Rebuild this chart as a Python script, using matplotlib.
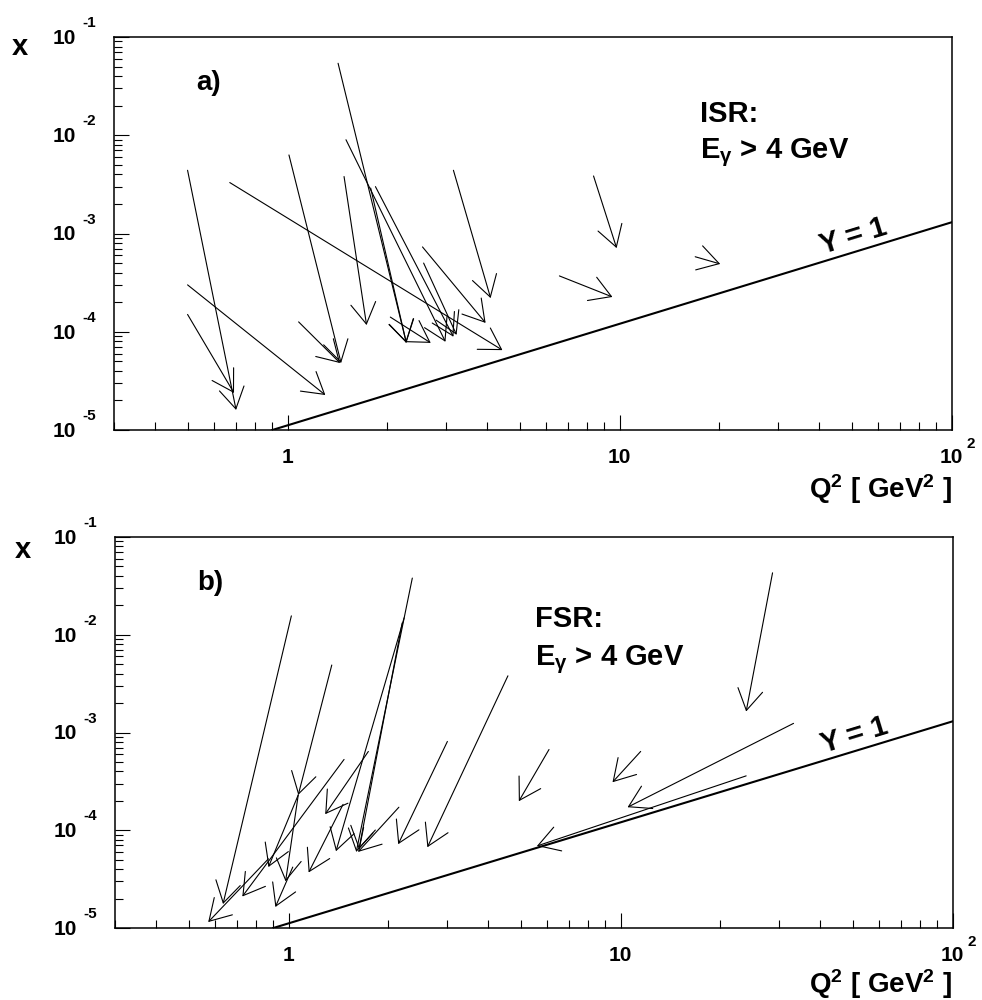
import numpy as np
import matplotlib
matplotlib.use("Agg")
import matplotlib.pyplot as plt
from matplotlib.patches import FancyArrowPatch

plt.rcParams['font.family'] = ['Liberation Sans', 'DejaVu Sans']
plt.rcParams['font.weight'] = 'bold'
plt.rcParams['mathtext.fontset'] = 'custom'
plt.rcParams['mathtext.rm'] = 'Liberation Sans:bold'
plt.rcParams['mathtext.it'] = 'Liberation Sans:bold'
plt.rcParams['mathtext.bf'] = 'Liberation Sans:bold'

# ISR events: (Q2, x) before -> after photon correction
isr_q2_tail = [0.50, 0.50, 0.50, 0.67, 1.01, 1.08, 1.42, 1.50, 1.48, 1.84, 3.16, 2.55, 2.57, 1.78, 2.04, 8.35, 6.59, 16.9]
isr_x_tail = [4.4e-3, 3.0e-4, 1.5e-4, 3.3e-3, 6.3e-3, 1.26e-4, 5.4e-2, 9.0e-3, 3.8e-3, 3.0e-3, 4.4e-3, 7.3e-4, 5.0e-4, 2.9e-3, 1.41e-4, 3.85e-3, 3.7e-4, 5.8e-4]
isr_q2_head = [0.70, 1.30, 0.69, 4.44, 1.45, 1.44, 2.28, 2.99, 1.73, 3.16, 4.09, 3.95, 3.23, 2.28, 2.70, 9.80, 9.52, 20.1]
isr_x_head = [1.6e-5, 2.27e-5, 2.38e-5, 6.5e-5, 4.8e-5, 4.8e-5, 7.7e-5, 7.9e-5, 1.17e-4, 8.9e-5, 2.2e-4, 1.23e-4, 9.3e-5, 7.7e-5, 7.7e-5, 7.1e-4, 2.26e-4, 4.9e-4]

# FSR events
fsr_q2_tail = [1.02, 1.35, 1.07, 1.07, 1.47, 0.87, 1.03, 1.46, 2.36, 2.20, 2.23, 1.74, 2.15, 3.01, 4.58, 6.09, 11.5, 33.2, 23.9, 28.7]
fsr_x_tail = [1.56e-2, 4.9e-3, 2.3e-4, 2.3e-4, 5.3e-4, 5.1e-5, 4.2e-5, 1.84e-4, 3.8e-2, 1.32e-2, 1.49e-2, 6.4e-4, 1.72e-4, 8.1e-4, 3.8e-3, 6.7e-4, 6.4e-4, 1.24e-3, 3.6e-4, 4.3e-2]
fsr_q2_head = [0.635, 1.07, 0.87, 0.98, 0.726, 0.573, 0.913, 1.15, 1.60, 1.63, 1.39, 1.29, 1.62, 2.14, 2.62, 4.94, 9.46, 10.5, 5.60, 23.9]
fsr_x_head = [1.76e-5, 2.3e-4, 4.2e-5, 3.0e-5, 2.1e-5, 1.15e-5, 1.64e-5, 3.7e-5, 6.0e-5, 6.4e-5, 6.1e-5, 1.46e-4, 6.0e-5, 7.2e-5, 6.7e-5, 1.98e-4, 3.1e-4, 1.72e-4, 6.9e-5, 1.64e-3]

# y = 1 kinematic limit
y1_q2 = [0.9, 100.0]
y1_x = [1.0e-5, 1.3e-3]

xtick_vals = [1, 10, 100]
xtick_base = ['1', '10', '10']
xtick_exp = ['', '', '2']
ytick_vals = [1e-5, 1e-4, 1e-3, 1e-2, 1e-1]
ytick_exp = ['-5', '-4', '-3', '-2', '-1']


def draw_panel(ax, q_t, x_t, q_h, x_h, tag, rad):
    ax.set_xscale('log')
    ax.set_yscale('log')
    ax.set_xlim(0.3, 100)
    ax.set_ylim(1e-5, 1e-1)
    for s in ax.spines.values():
        s.set_linewidth(1.1)
    ax.set_xticks(xtick_vals)
    ax.set_yticks(ytick_vals)
    ax.tick_params(which='both', direction='in', top=False, right=False,
                   labelbottom=False, labelleft=False, width=0.8)
    ax.tick_params(which='major', length=11)
    ax.tick_params(which='minor', length=5.5)

    for qt, xt, qh, xh in zip(q_t, x_t, q_h, x_h):
        arr = FancyArrowPatch((qt, xt), (qh, xh),
                              arrowstyle='->,head_length=1.0,head_width=0.6',
                              mutation_scale=15, shrinkA=0, shrinkB=0,
                              lw=0.8, color='black')
        ax.add_patch(arr)

    ax.plot(y1_q2, y1_x, color='black', lw=1.5)

    # Y = 1 label along the line
    fig.canvas.draw()
    p = ax.transData.transform(list(zip(y1_q2, y1_x)))
    ang = np.degrees(np.arctan2(p[1, 1] - p[0, 1], p[1, 0] - p[0, 0]))
    qlab = 52.0
    xlab = 10 ** np.interp(np.log10(qlab), np.log10(y1_q2), np.log10(y1_x))
    ax.annotate('Y = 1', xy=(qlab, xlab), xytext=(0, 1), textcoords='offset points',
                rotation=ang, rotation_mode='anchor', ha='center', va='bottom',
                fontsize=21)

    ax.text(0.098, 0.865, tag, transform=ax.transAxes, fontsize=20, va='baseline')
    ax.text(rad[0], rad[1], rad[2] + ':', transform=ax.transAxes, fontsize=21, va='baseline')
    ax.text(rad[0], rad[3], r'E$_{\gamma}$ > 4 GeV', transform=ax.transAxes,
            fontsize=21, va='baseline')

    for v, b, e in zip(xtick_vals, xtick_base, xtick_exp):
        ax.annotate(b, xy=(v, 0), xycoords=('data', 'axes fraction'),
                    xytext=(0, -20), textcoords='offset points',
                    ha='center', va='center', fontsize=15, annotation_clip=False)
        if e:
            ax.annotate(e, xy=(v, 0), xycoords=('data', 'axes fraction'),
                        xytext=(11, -10), textcoords='offset points',
                        ha='left', va='center', fontsize=11, annotation_clip=False)
    for v, e in zip(ytick_vals, ytick_exp):
        ax.annotate('10', xy=(0, v), xycoords=('axes fraction', 'data'),
                    xytext=(-27, -1), textcoords='offset points',
                    ha='right', va='center', fontsize=15, annotation_clip=False)
        ax.annotate(e, xy=(0, v), xycoords=('axes fraction', 'data'),
                    xytext=(-23, 10), textcoords='offset points',
                    ha='left', va='center', fontsize=11, annotation_clip=False)


fig = plt.figure(figsize=(9.82, 10), dpi=100)
ax1 = fig.add_axes([0.116, 0.570, 0.853, 0.393])
ax2 = fig.add_axes([0.117, 0.072, 0.853, 0.391])

draw_panel(ax1, isr_q2_tail, isr_x_tail, isr_q2_head, isr_x_head, 'a)',
           (0.700, 0.784, 'ISR', 0.692))
draw_panel(ax2, fsr_q2_tail, fsr_x_tail, fsr_q2_head, fsr_x_head, 'b)',
           (0.502, 0.770, 'FSR', 0.673))

fig.text(0.020, 0.953, 'x', fontsize=21, ha='center', va='center')
fig.text(0.023, 0.450, 'x', fontsize=21, ha='center', va='center')
fig.text(0.969, 0.511, r'Q$^2$ [ GeV$^2$ ]', fontsize=20, ha='right', va='center')
fig.text(0.969, 0.016, r'Q$^2$ [ GeV$^2$ ]', fontsize=20, ha='right', va='center')

fig.savefig('out.png', dpi=100)
